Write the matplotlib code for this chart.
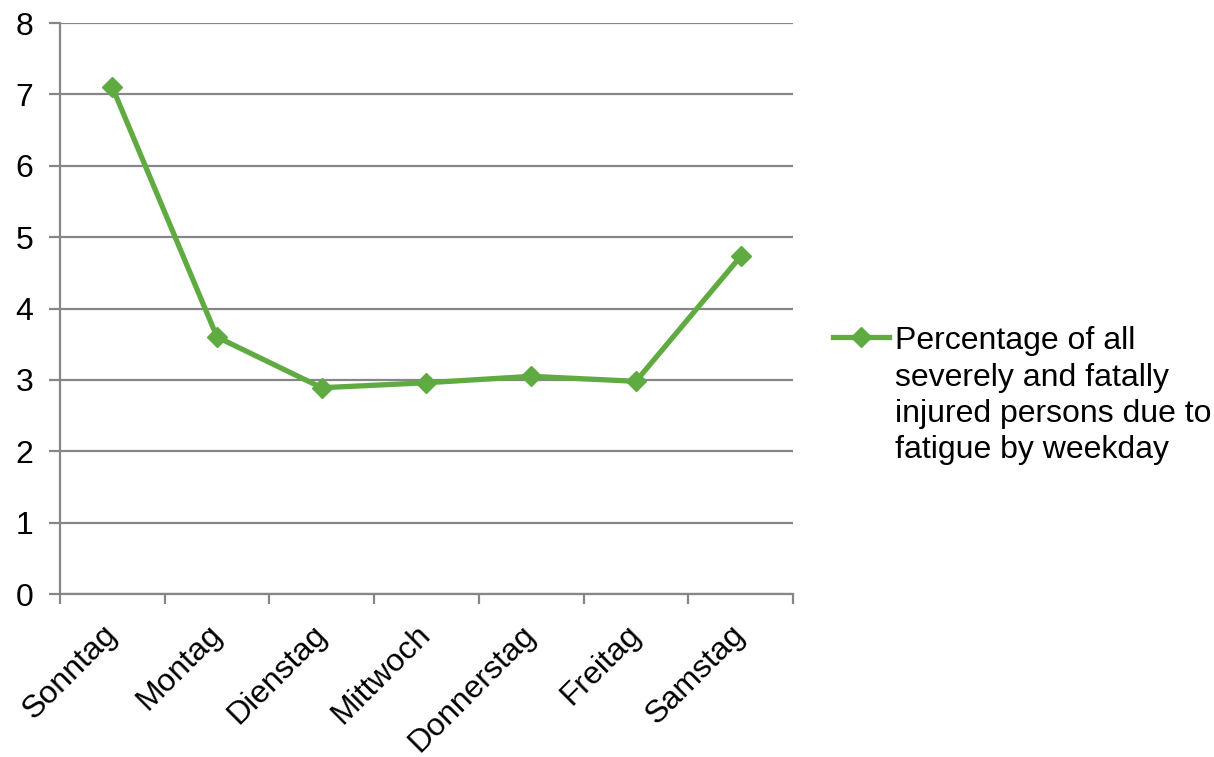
import numpy as np
import matplotlib
matplotlib.use("Agg")
import matplotlib.pyplot as plt
from matplotlib.text import Annotation

plt.rcParams['font.family'] = ['Liberation Sans', 'DejaVu Sans']

# Data
weekdays = ["Sonntag", "Montag", "Dienstag", "Mittwoch", "Donnerstag", "Freitag", "Samstag"]
share_pct = [7.10, 3.60, 2.89, 2.96, 3.05, 2.98, 4.73]
y_ticks = [0, 1, 2, 3, 4, 5, 6, 7, 8]
legend_lines = ["Percentage of all", "severely and fatally",
                "injured persons due to", "fatigue by weekday"]

GREEN = "#5FAB42"
GRAY = "#868686"
FS = 23

fig = plt.figure(figsize=(12.14, 7.57), dpi=100)
ax = fig.add_axes([0.0494, 0.2153, 0.6038, 0.7543])

x = np.arange(len(weekdays))
line, = ax.plot(x, share_pct, color=GREEN, lw=3.8, marker='D', ms=10.5,
                mec=GREEN, mfc=GREEN, solid_joinstyle='round', zorder=3)

ax.set_xlim(-0.5, len(weekdays) - 0.5)
ax.set_ylim(0, 8)

for s in ("top", "right"):
    ax.spines[s].set_visible(False)
for s in ("left", "bottom"):
    ax.spines[s].set_color(GRAY)
    ax.spines[s].set_linewidth(1.6)

ax.set_yticks(y_ticks)
ax.set_yticklabels([str(v) for v in y_ticks])
ax.yaxis.grid(True, color=GRAY, lw=1.6)
ax.set_axisbelow(True)
ax.tick_params(axis='y', length=8, width=1.6, color=GRAY, pad=11,
               labelsize=FS, labelcolor='black')

# category labels at centres, tick marks at category boundaries
ax.set_xticks(x)
ax.set_xticklabels(weekdays, rotation=45, ha='right', va='center',
                   rotation_mode='anchor')
ax.set_xticks(np.arange(-0.5, len(weekdays)), minor=True)
ax.tick_params(axis='x', which='major', length=0, pad=26, labelsize=FS)
ax.tick_params(axis='x', which='minor', length=7.5, width=1.6, color=GRAY)

# legend: handle beside the first line, rest of the label below it
leg = fig.legend([line], [legend_lines[0]], loc='center left',
                 bbox_to_anchor=(0.686, 0.550), frameon=False,
                 fontsize=FS, handlelength=1.75, handletextpad=0.2,
                 borderpad=0, borderaxespad=0)
first = leg.get_texts()[0]
rest = Annotation("\n".join(legend_lines[1:]), xy=(0, 0), xycoords=first,
                  xytext=(0, -5), textcoords='offset points',
                  ha='left', va='top', fontsize=FS, linespacing=1.27,
                  annotation_clip=False)
rest.set_zorder(10)
fig.add_artist(rest)

fig.savefig("out.png", dpi=100)
